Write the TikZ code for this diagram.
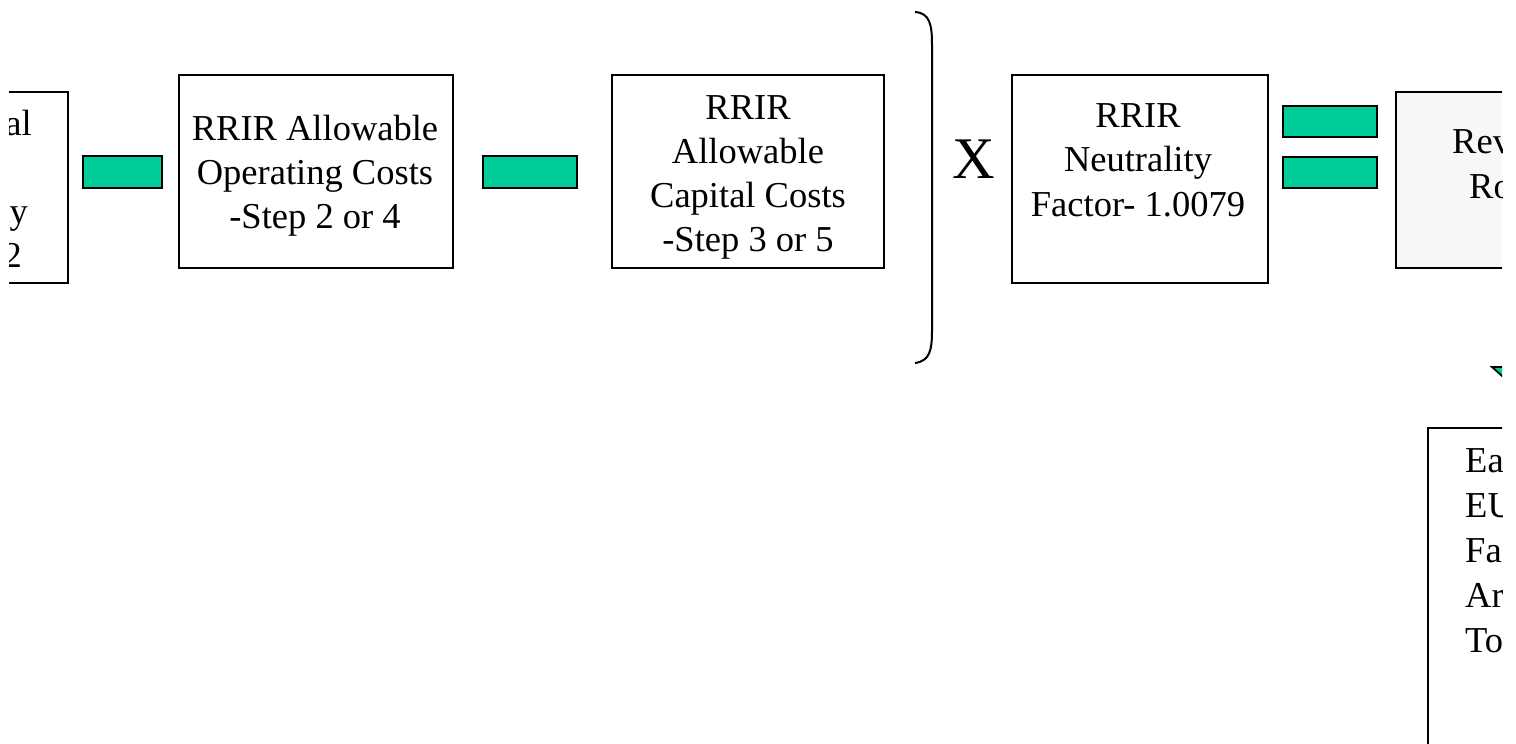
\documentclass[tikz,border=0pt]{standalone}
\usepackage{fontspec}
\setmainfont{Liberation Serif}
\definecolor{bargreen}{RGB}{0,204,153}
\definecolor{boxgray}{RGB}{247,247,247}
\tikzset{
  x=1pt, y=-1pt,
  box/.style={draw, line width=2pt, inner sep=0pt},
  opbar/.style={draw, fill=bargreen, line width=1.8pt, inner sep=0pt},
  txt/.style={inner sep=0pt, font=\fontsize{36.5}{44}\selectfont},
}
\newcommand{\boxat}[5]{% name, x1, y1, x2, y2
  \node[box, minimum width={#4-#2}, minimum height={#5-#3}] (#1) at ({(#2+#4)/2},{(#3+#5)/2}) {};}
\begin{document}
\begin{tikzpicture}
\useasboundingbox (0,0) rectangle (1516,744);
\begin{scope}
\clip (9,0) rectangle (1502,744);
% boxes
\boxat{lbox}{-200}{92}{68}{283}
\boxat{opbox}{179}{75}{453}{268}
\boxat{capbox}{612}{75}{884}{268}
\boxat{neubox}{1012}{75}{1268}{283}
\node[box, fill=boxgray, minimum width=300, minimum height=176] (revbox) at (1546,180) {};
\boxat{botbox}{1428}{428}{1700}{800}
% left box fragments
\node[txt, anchor=base east] (l1) at (32,135) {al};
\node[txt, anchor=base east] (l2) at (28,223) {ty};
\node[txt, anchor=base east] (l3) at (22,267) {2};
% operating box
\foreach \t [count=\i] in {RRIR Allowable, Operating Costs, -Step 2 or 4}
  \node[txt, anchor=base] (op\i) at (315,{140+44*(\i-1)}) {\t};
% capital box
\foreach \t [count=\i] in {RRIR, Allowable, Capital Costs, -Step 3 or 5}
  \node[txt, anchor=base] (cap\i) at (748,{119+44.3*(\i-1)}) {\t};
% neutrality box
\foreach \t [count=\i] in {RRIR, Neutrality, Factor- 1.0079}
  \node[txt, anchor=base] (neu\i) at (1138,{127+44.5*(\i-1)}) {\t};
% revenue box
\node[txt, anchor=base west] (rev1) at (1452,153) {Rev};
\node[txt, anchor=base west] (rev2) at (1469,198) {Ro};
% bottom box
\foreach \t [count=\i] in {Ea, EU, Fa, Ar, To}
  \node[txt, anchor=base west] (bot\i) at (1465,{472+45*(\i-1)}) {\t};
% operators
\node[opbar, minimum width=79, minimum height=32] (minus1) at (122.5,172) {};
\node[opbar, minimum width=94, minimum height=32] (minus2) at (530,172) {};
\node[opbar, minimum width=94, minimum height=31] (eq1) at (1330,121.5) {};
\node[opbar, minimum width=94, minimum height=31] (eq2) at (1330,172.5) {};
\node[inner sep=0pt, anchor=base, font=\fontsize{59}{60}\selectfont] (times) at (974,178) {X};
% closing bracket
\draw[line width=2pt] (915,12) .. controls (930,13) and (932,25) .. (932,45)
  -- (932,330) .. controls (932,350) and (930,361) .. (915,363);
% down arrow head (partial)
\draw[line width=1.8pt, fill=bargreen] (1492,367) -- (1570,367) -- (1531,402) -- cycle;
\end{scope}
\end{tikzpicture}
\end{document}
